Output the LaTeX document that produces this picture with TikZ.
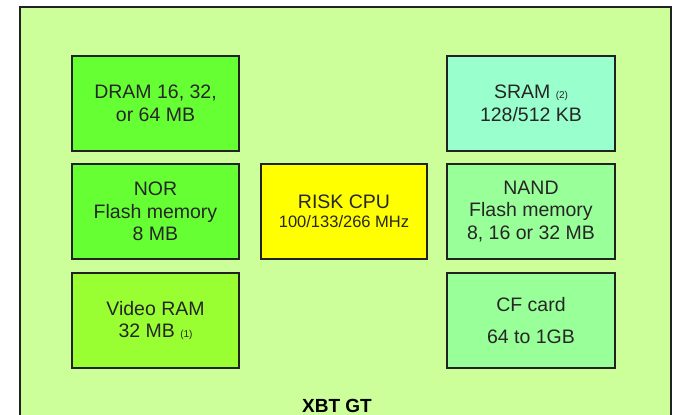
\documentclass[tikz,border=0pt]{standalone}
\usepackage{fontspec}
\setmainfont{Liberation Sans}
\definecolor{bgout}{HTML}{CCFF99}
\definecolor{cdram}{HTML}{66FF33}
\definecolor{cvid}{HTML}{99FF33}
\definecolor{ccpu}{HTML}{FFFF00}
\definecolor{csram}{HTML}{99FFCC}
\definecolor{cnand}{HTML}{99FF99}
\definecolor{edge}{HTML}{222222}
\begin{document}
\begin{tikzpicture}[x=1pt,y=-1pt,
  membox/.style={draw=edge, line width=1.2pt, minimum width=167pt, minimum height=95pt,
    inner sep=0pt, align=center, font=\fontsize{19.5}{22.5}\selectfont, text=black!85}]
\useasboundingbox (0,0) rectangle (675,415);
\clip (0,0) rectangle (675,415);
\fill[white] (0,0) rectangle (675,415);
\draw[edge, line width=1.2pt, fill=bgout] (20,7) rectangle (671,440);
\node[membox, fill=cdram] (dram) at (155.5,103.5) {DRAM 16, 32,\\or 64 MB};
\node[membox, fill=cdram] (nor) at (155.5,211.5) {NOR\\Flash memory\\8 MB};
\node[membox, fill=cvid] (vram) at (155.5,320.5) {Video RAM\\32 MB {\fontsize{10}{12}\selectfont (1)}};
\node[membox, fill=ccpu, minimum width=166pt] (cpu) at (344,211.5) {RISK CPU\\[-3pt]{\fontsize{16.5}{18}\selectfont 100/133/266 MHz}};
\node[membox, fill=csram, minimum width=168pt] (sram) at (531,103.5) {SRAM {\fontsize{10}{12}\selectfont (2)}\\128/512 KB};
\node[membox, fill=cnand, minimum width=168pt] (nand) at (531,211.5) {NAND\\Flash memory\\8, 16 or 32 MB};
\node[membox, fill=cnand, minimum width=168pt] (cf) at (531,320.5) {CF card\\[10pt]64 to 1GB};
\node[font=\bfseries\fontsize{19}{23}\selectfont, anchor=base, inner sep=0pt] (title) at (337,412) {XBT GT};
\end{tikzpicture}
\end{document}
